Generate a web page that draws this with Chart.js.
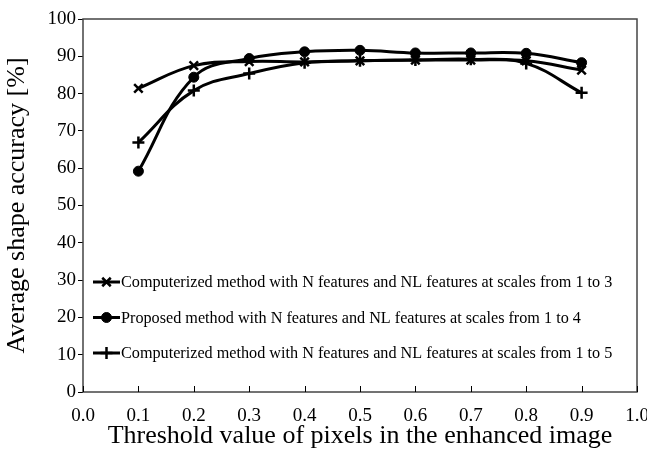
<!DOCTYPE html>
<html>
<head>
<meta charset="utf-8">
<script src="https://cdn.jsdelivr.net/npm/chart.js@4.4.1/dist/chart.umd.min.js"></script>
<style>
  html, body { margin: 0; padding: 0; background: #fff; }
  #wrap { width: 647px; height: 458px; }
</style>
</head>
<body>
<div id="wrap"><canvas id="myChart"></canvas></div>
<script>
const thresholds = [0.1, 0.2, 0.3, 0.4, 0.5, 0.6, 0.7, 0.8, 0.9];
const scales13 = [81.4, 87.5, 88.6, 88.5, 88.8, 89.0, 89.0, 88.8, 86.3];
const scales14 = [59.2, 84.4, 89.4, 91.2, 91.6, 90.9, 90.9, 90.8, 88.3];
const scales15 = [66.9, 80.8, 85.4, 88.3, 88.8, 89.0, 89.2, 88.1, 80.2];
const seriesNames = [
  'Computerized method with N features and NL features at scales from 1 to 3',
  'Proposed method with N features and NL features at scales from 1 to 4',
  'Computerized method with N features and NL features at scales from 1 to 5'
];
const xTicks = [0, 0.1, 0.2, 0.3, 0.4, 0.5, 0.6, 0.7, 0.8, 0.9, 1.0];

const serif = "'Liberation Serif', 'Times New Roman', serif";

function points(values) {
  return thresholds.map((t, i) => ({ x: t, y: values[i] }));
}

// frame, inner x ticks and the legend inside the plot
const framePlugin = {
  id: 'frame',
  afterDraw(chart) {
    const ctx = chart.ctx;
    const a = chart.chartArea;
    const xs = chart.scales.x;
    ctx.save();
    ctx.strokeStyle = '#444';
    ctx.lineWidth = 1.5;
    ctx.strokeRect(a.left, a.top, a.right - a.left, a.bottom - a.top);

    ctx.strokeStyle = '#000';
    ctx.lineWidth = 1;
    xTicks.forEach(v => {
      const px = Math.round(xs.getPixelForValue(v)) + 0.5;
      ctx.beginPath();
      ctx.moveTo(px, a.bottom);
      ctx.lineTo(px, a.bottom - 6);
      ctx.stroke();
    });

    const rows = [a.bottom - 110, a.bottom - 74.5, a.bottom - 39];
    ctx.font = '16.2px ' + serif;
    ctx.textBaseline = 'middle';
    ctx.textAlign = 'left';
    chart.data.datasets.forEach((ds, i) => {
      const y = rows[i];
      const x0 = a.left + 10;
      ctx.strokeStyle = '#000';
      ctx.fillStyle = '#000';
      ctx.lineWidth = 3;
      ctx.beginPath();
      ctx.moveTo(x0, y);
      ctx.lineTo(x0 + 27, y);
      ctx.stroke();
      ctx.lineWidth = ds.pointBorderWidth;
      Chart.helpers.drawPoint(ctx, {
        pointStyle: ds.pointStyle,
        radius: ds.pointRadius,
        borderWidth: ds.pointBorderWidth,
        rotation: 0
      }, x0 + 13.5, y);
      ctx.fillStyle = '#000';
      ctx.fillText(ds.label, x0 + 28, y + 1);
    });
    ctx.restore();
  }
};

const ctx = document.getElementById('myChart');

new Chart(ctx, {
  type: 'line',
  data: {
    datasets: [
      {
        label: seriesNames[0],
        data: points(scales13),
        borderColor: '#000',
        backgroundColor: '#000',
        borderWidth: 3,
        pointStyle: 'crossRot',
        pointRadius: 6,
        pointBorderWidth: 2.5,
        tension: 0.4
      },
      {
        label: seriesNames[1],
        data: points(scales14),
        borderColor: '#000',
        backgroundColor: '#000',
        borderWidth: 3,
        pointStyle: 'circle',
        pointRadius: 5,
        pointBorderWidth: 1,
        tension: 0.4
      },
      {
        label: seriesNames[2],
        data: points(scales15),
        borderColor: '#000',
        backgroundColor: '#000',
        borderWidth: 3,
        pointStyle: 'cross',
        pointRadius: 6,
        pointBorderWidth: 2.5,
        tension: 0.4
      }
    ]
  },
  options: {
    responsive: true,
    maintainAspectRatio: false,
    animation: false,
    layout: { padding: { top: 19, right: 0, left: 0, bottom: 0 } },
    plugins: {
      legend: { display: false },
      tooltip: { enabled: false }
    },
    scales: {
      x: {
        type: 'linear',
        min: 0,
        max: 1,
        afterBuildTicks: (scale) => { scale.ticks = xTicks.map(v => ({ value: v })); },
        ticks: {
          color: '#000',
          font: { family: serif, size: 19 },
          padding: 5,
          maxRotation: 0,
          callback: (v) => Number(v).toFixed(1)
        },
        grid: { display: false },
        border: { display: false },
        title: {
          display: true,
          text: 'Threshold value of pixels in the enhanced image',
          color: '#000',
          font: { family: serif, size: 26 },
          padding: { top: 0, bottom: 6 }
        },
        afterFit: (scale) => {
          scale.height = 66;
          scale.paddingRight = 10;
          scale.paddingLeft = 0;
        }
      },
      y: {
        min: 0,
        max: 100,
        ticks: {
          stepSize: 10,
          color: '#000',
          font: { family: serif, size: 19 },
          padding: 2
        },
        grid: {
          drawOnChartArea: false,
          drawTicks: true,
          tickLength: 5,
          color: '#000'
        },
        border: { display: false },
        title: {
          display: true,
          text: 'Average shape accuracy [%]',
          color: '#000',
          font: { family: serif, size: 26 },
          padding: { top: 2, bottom: 0 }
        },
        afterFit: (scale) => { scale.width = 83; }
      }
    }
  },
  plugins: [framePlugin]
});
</script>
</body>
</html>
